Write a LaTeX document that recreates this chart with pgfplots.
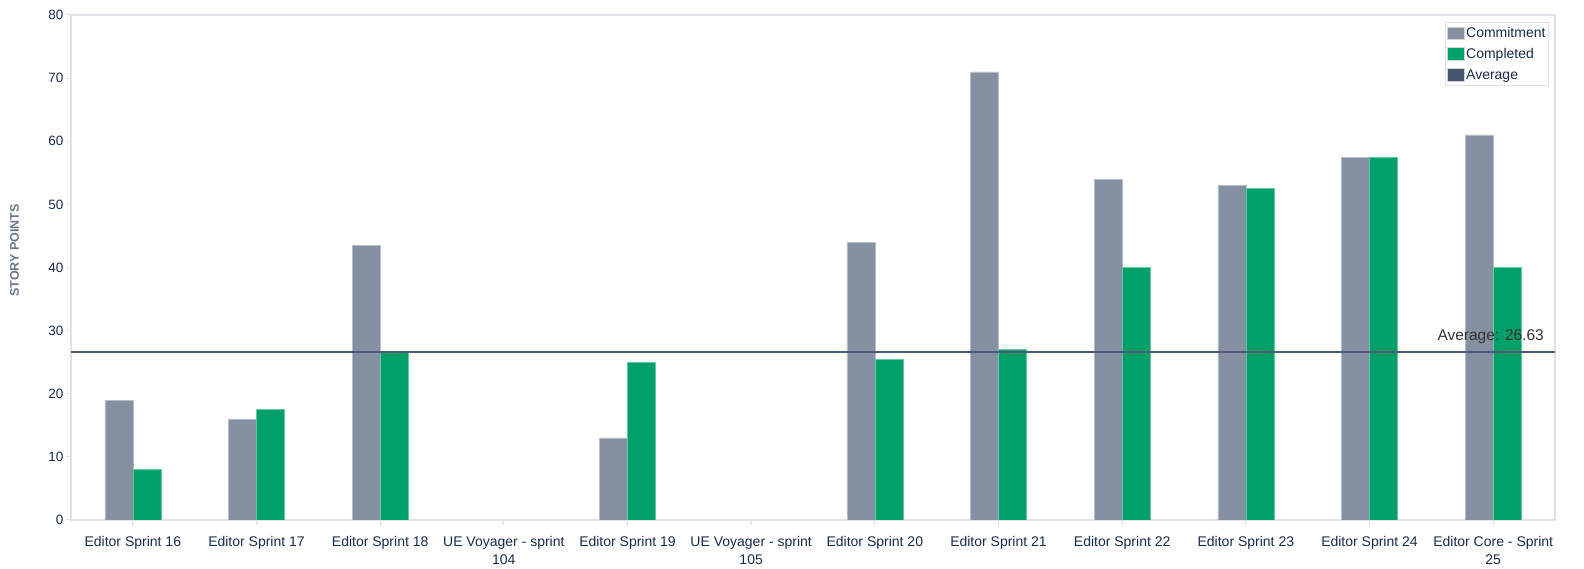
\documentclass[border=0pt]{standalone}
\usepackage{pgfplots}
\pgfplotsset{compat=1.18}
\usepackage{fontspec}
\setmainfont{Liberation Sans}
\definecolor{commit}{HTML}{8590A2}
\definecolor{done}{HTML}{00A06B}
\definecolor{avg}{HTML}{4C5B75}
\definecolor{avgbox}{HTML}{44546F}
\definecolor{txt}{HTML}{172B4D}
\definecolor{axl}{HTML}{DFE1E6}
\definecolor{ylab}{HTML}{6B778C}

\newcommand{\two}[2]{\begin{tabular}[t]{@{}c@{}}#1\\#2\end{tabular}}

\pgfplotstableread{
x commit done
0 19   8
1 16   17.5
2 43.5 26.5
3 0    0
4 13   25
5 0    0
6 44   25.5
7 71   27
8 54   40
9 53   52.5
10 57.5 57.5
11 61  40
}\sprints

\begin{document}
\begin{tikzpicture}
\begin{axis}[
  at={(0pt,0pt)}, anchor=south west,
  scale only axis, width=1484pt, height=505pt,
  xmin=-0.5, xmax=11.5, ymin=0, ymax=80,
  xtick={0,...,11},
  xticklabels={Editor Sprint 16, Editor Sprint 17, Editor Sprint 18,
    {\two{UE Voyager - sprint}{104}}, Editor Sprint 19, {\two{UE Voyager - sprint}{105}},
    Editor Sprint 20, Editor Sprint 21, Editor Sprint 22, Editor Sprint 23,
    Editor Sprint 24, {\two{Editor Core - Sprint}{25}}},
  xticklabel style={font=\fontsize{14}{18}\selectfont, text=txt,
    anchor=base, yshift=-22pt},
  ytick={0,10,...,80},
  yticklabel style={font=\fontsize{13.5}{15}\selectfont, text=txt, xshift=1pt},
  /pgf/number format/assume math mode=true,
  xtick pos=left, ytick pos=left,
  axis line style={axl, line width=1.2pt},
  tick style={axl, line width=1pt},
  tick align=outside, major tick length=5pt,
  ylabel={STORY POINTS},
  ylabel style={at={(axis description cs:-0.03807,0.534)}, anchor=center,
    font=\fontsize{12.5}{14}\selectfont\bfseries, text=ylab},
  legend style={at={(rel axis cs:0.99596,0.9861)}, anchor=north east,
    draw=axl, line width=1pt, font=\fontsize{14}{16}\selectfont, text=txt,
    row sep=7pt, inner xsep=2pt, inner ysep=4pt,
    nodes={inner sep=1pt},
    /tikz/every even column/.append style={column sep=2pt}},
  legend cell align=left,
  % empty sprints draw no bar at all
  y filter/.expression={y==0 ? nan : y},
]
\addplot[ybar, bar width=28pt, bar shift=-14pt, fill=commit, draw=commit!60!white, line width=0.6pt,
  legend image code/.code={\draw[fill=commit, draw=gray!35, line width=0.9pt] (0pt,-6pt) rectangle (17pt,6.5pt);}]
  table[x=x, y=commit] {\sprints};
\addlegendentry{Commitment}
\addplot[ybar, bar width=28pt, bar shift=14pt, fill=done, draw=done!60!white, line width=0.6pt,
  legend image code/.code={\draw[fill=done, draw=gray!35, line width=0.9pt] (0pt,-6pt) rectangle (17pt,6.5pt);}]
  table[x=x, y=done] {\sprints};
\addlegendentry{Completed}
\addplot[sharp plot, avg, line width=2.7pt, mark=none,
  legend image code/.code={\draw[fill=avgbox, draw=gray!35, line width=0.9pt] (0pt,-6pt) rectangle (17pt,6.5pt);}]
  coordinates {(-0.5,26.63) (11.5,26.63)};
\addlegendentry{Average}
\node[anchor=base east, font=\fontsize{15.5}{17}\selectfont, text=black!80, inner sep=0pt,
  xshift=-11pt, yshift=11pt]
  at (axis cs:11.5,26.63) {Average: 26.63};
\end{axis}
\pgfresetboundingbox
\path[use as bounding box] (-71pt,-49pt) rectangle (1513pt,520pt);
\end{tikzpicture}
\end{document}
